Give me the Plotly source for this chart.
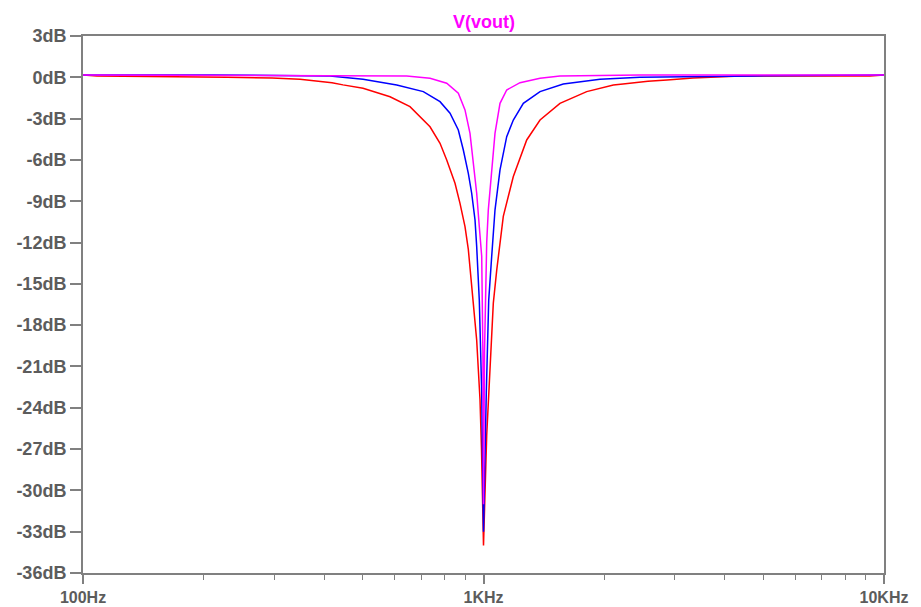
import plotly.graph_objects as go

# ---- data (frequency in Hz, magnitude in dB) ----
red_f = [100, 108.4, 228.8, 296.5, 348.3, 386.2, 418.5, 445.9, 500.3, 584.3, 655.3,
         735.3, 778.8, 809.4, 848.9, 873.6, 899.1, 916.4, 925.3, 942.9, 961.6, 980.1,
         988.5, 1000, 1018.6, 1028, 1038, 1058, 1079, 1089, 1099.6, 1120.6, 1187, 1282,
         1384, 1552, 1810, 2110, 2230, 2362, 2574, 2872, 3335, 4370, 9226, 10000]
red_db = [0.17, 0.1, 0.0, -0.05, -0.14, -0.29, -0.39, -0.55, -0.8, -1.41, -2.13,
          -3.59, -4.79, -6.0, -7.7, -9.15, -10.85, -12.5, -14.0, -16.4, -19.1, -23.4,
          -27.0, -34.0, -26.0, -23.7, -20.3, -16.4, -14.0, -13.0, -11.8, -10.1, -7.2, -4.55,
          -3.1, -1.89, -1.04, -0.56, -0.49, -0.39, -0.29, -0.19, -0.05, 0.1, 0.1, 0.17]

blue_f = [100, 211.2, 406.7, 413.7, 500.3, 607.3, 707.5, 778.8, 824.9, 865.2, 890.5,
          916.4, 934.3, 952.4, 961.6, 976.2, 989.7, 1000, 1016.2, 1030.4, 1048.3, 1068.3,
          1099.6, 1142.7, 1187, 1257.4, 1384, 1582, 1954, 2459, 4709, 9174, 10000]
blue_db = [0.17, 0.17, 0.1, 0.1, -0.14, -0.56, -1.04, -1.77, -2.61, -3.83, -5.28,
           -6.97, -8.42, -10.36, -12.3, -16.2, -22.9, -33.0, -22.9, -16.2, -13.0, -9.64,
           -6.73, -4.31, -3.1, -1.89, -1.04, -0.49, -0.14, 0.0, 0.1, 0.17, 0.17]

mag_f = [100, 643.1, 735.3, 809.4, 865.2, 899.1, 925.3, 942.9, 961.6, 976.2, 989.7,
         996.6, 1000, 1005.8, 1018.6, 1028, 1048.3, 1068.3, 1099.6, 1142.7, 1233.6,
         1384, 1552, 2459, 10000]
mag_db = [0.17, 0.1, -0.07, -0.43, -1.16, -2.37, -4.07, -6.0, -8.42, -10.85, -13.0,
          -20.0, -31.0, -20.0, -12.0, -9.64, -6.73, -4.07, -1.89, -0.92, -0.39,
          -0.07, 0.1, 0.17, 0.17]

y_ticks = [3, 0, -3, -6, -9, -12, -15, -18, -21, -24, -27, -30, -33, -36]
y_labels = [f"{v}dB" for v in y_ticks]
x_ticks = [100, 1000, 10000]
x_labels = ["100Hz", "1KHz", "10KHz"]
x_minor = [200, 300, 400, 500, 600, 700, 800, 900,
           2000, 3000, 4000, 5000, 6000, 7000, 8000, 9000]

AX = "#808080"
TXT = "#5c5c5c"
FONT = "Liberation Sans, Arial"

fig = go.Figure()
for f, d, c in [(red_f, red_db, "#ff0000"), (blue_f, blue_db, "#0000ff"), (mag_f, mag_db, "#ff00ff")]:
    fig.add_trace(go.Scatter(x=f, y=d, mode="lines", line=dict(color=c, width=1.5),
                             showlegend=False, hoverinfo="skip"))

# the page body adds an 8px offset, so margins are shifted by -8
fig.update_layout(
    width=921, height=607,
    margin=dict(l=75, r=45, t=28, b=42),
    paper_bgcolor="white", plot_bgcolor="white",
    font=dict(family=FONT, size=18, color=TXT),
)
fig.update_xaxes(
    type="log", range=[2, 4], showgrid=False, zeroline=False, automargin=False,
    showline=True, mirror=True, linecolor=AX, linewidth=2,
    tickmode="array", tickvals=x_ticks, ticktext=[f"<b>{t}</b>" for t in x_labels],
    ticks="outside", ticklen=9, tickcolor=AX, tickwidth=1.5,
    minor=dict(tickmode="array", tickvals=x_minor, ticks="outside", ticklen=5,
               tickcolor=AX, tickwidth=1, showgrid=False),
    tickfont=dict(family=FONT, size=16, color=TXT),
)
fig.update_yaxes(
    range=[-36, 3], showgrid=False, zeroline=False, automargin=False,
    showline=True, mirror=True, linecolor=AX, linewidth=2,
    tickmode="array", tickvals=y_ticks, ticktext=[f"<b>{t}</b>" for t in y_labels],
    ticks="outside", ticklen=11, tickcolor=AX, tickwidth=1.5,
    tickfont=dict(family=FONT, size=18, color=TXT),
)
fig.add_annotation(
    text="<b>V(vout)</b>", xref="paper", yref="paper", x=0.5, y=1,
    xanchor="center", yanchor="bottom", yshift=2, showarrow=False,
    font=dict(family=FONT, size=18, color="#ff00ff"),
)

fig.write_html("out.html")
